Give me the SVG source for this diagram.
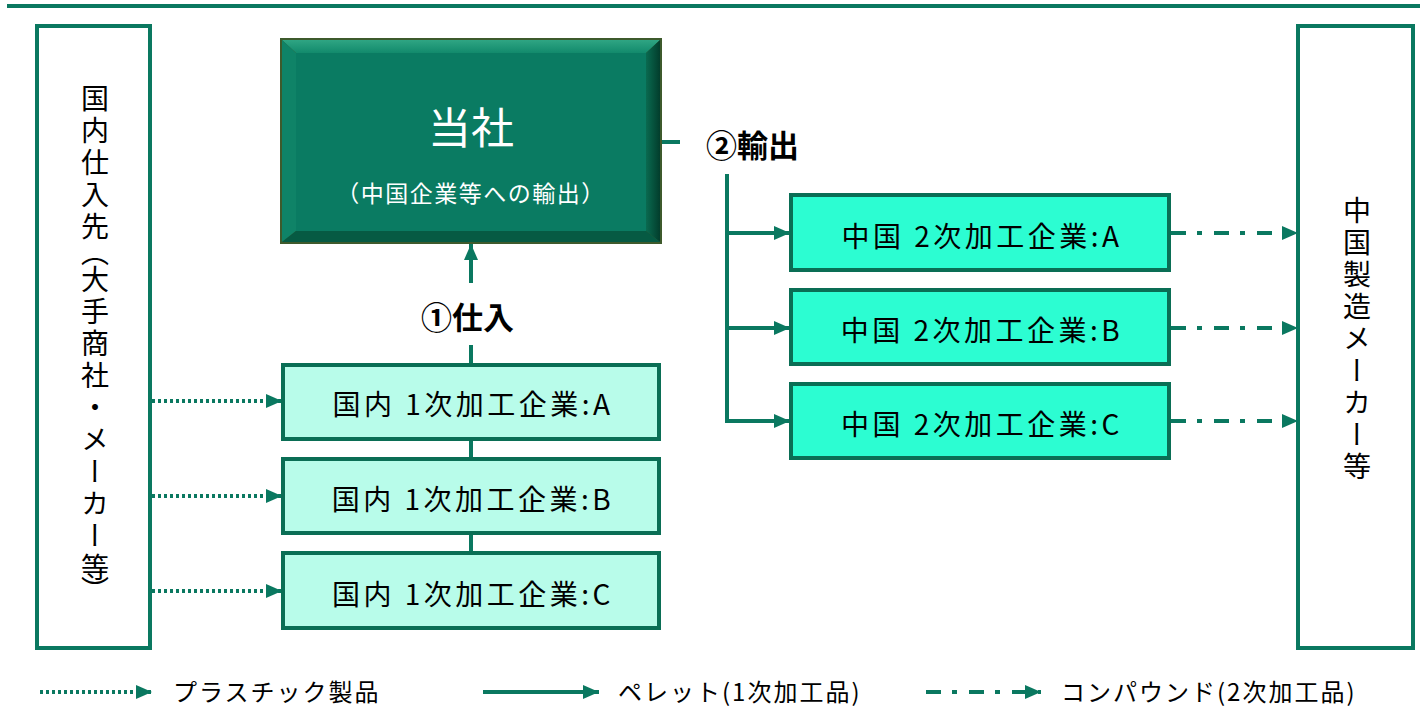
<svg xmlns="http://www.w3.org/2000/svg" width="1420" height="706" viewBox="0 0 1420 706">
<defs>
<style>
text{font-family:"Noto Sans CJK JP","Noto Sans",sans-serif;fill:#000}
.frame{fill:#fff;stroke:#0A7860;stroke-width:4}
.dom{fill:#B8FCEA;stroke:#0A6E55;stroke-width:4}
.chn{fill:#2CFDD2;stroke:#0A6E55;stroke-width:4}
.lbl{font-size:28px;letter-spacing:3.5px;text-anchor:middle}
.vert{font-size:28px;letter-spacing:4px;writing-mode:vertical-rl}
.solid{stroke:#0A7860;stroke-width:4;fill:none}
.dot{stroke:#0A7860;stroke-width:4;fill:none;stroke-dasharray:3 3}
.dashdot{stroke:#0A7860;stroke-width:4;fill:none;stroke-dasharray:15 11 5 12}
.leg{font-size:24px;letter-spacing:2px}
.step{font-size:31px;font-weight:bold}
</style>
<marker id="ah" viewBox="0 0 16 14" markerWidth="16" markerHeight="14" refX="16" refY="7" orient="auto" markerUnits="userSpaceOnUse">
<path d="M0,0 L16,7 L0,14 z" fill="#0A7860"/>
</marker>
<linearGradient id="topBevel" x1="0" y1="0" x2="0" y2="1">
<stop offset="0" stop-color="#2FA583"/><stop offset="1" stop-color="#128A6C"/>
</linearGradient>
<linearGradient id="rightBevel" x1="0" y1="0" x2="1" y2="0">
<stop offset="0" stop-color="#0A6A50"/><stop offset="1" stop-color="#023D2C"/>
</linearGradient>
</defs>

<rect x="7" y="4" width="1413" height="4" fill="#0A7860"/>

<g id="connectors">
<line class="dot" x1="152" y1="401" x2="282" y2="401" marker-end="url(#ah)"/>
<line class="dot" x1="152" y1="496" x2="282" y2="496" marker-end="url(#ah)"/>
<line class="dot" x1="152" y1="591" x2="282" y2="591" marker-end="url(#ah)"/>
<line class="solid" x1="471" y1="283" x2="471" y2="244" marker-end="url(#ah)"/>
<line class="solid" x1="471" y1="345" x2="471" y2="364"/>
<line class="solid" x1="471" y1="440" x2="471" y2="458"/>
<line class="solid" x1="471" y1="534" x2="471" y2="552"/>
<line class="solid" x1="662" y1="142" x2="680" y2="142"/>
<line class="solid" x1="727" y1="174" x2="727" y2="421"/>
<line class="solid" x1="725" y1="233" x2="790" y2="233" marker-end="url(#ah)"/>
<line class="solid" x1="725" y1="328" x2="790" y2="328" marker-end="url(#ah)"/>
<line class="solid" x1="725" y1="421" x2="790" y2="421" marker-end="url(#ah)"/>
<line class="dashdot" x1="1171" y1="233" x2="1298" y2="233" marker-end="url(#ah)"/>
<line class="dashdot" x1="1171" y1="328" x2="1298" y2="328" marker-end="url(#ah)"/>
<line class="dashdot" x1="1171" y1="421" x2="1298" y2="421" marker-end="url(#ah)"/>
</g>

<g id="domestic-suppliers">
<rect class="frame" x="37" y="26" width="113" height="622"/>
<text class="vert" x="95" y="84">国内仕入先</text>
<text class="vert" x="95" y="238">（</text>
<text class="vert" x="95" y="265">大手商社・メーカー等</text>
<text class="vert" x="95" y="576">）</text>
</g>

<g id="china-makers">
<rect class="frame" x="1298" y="26" width="115" height="622"/>
<text class="vert" x="1357" y="196">中国製造メーカー等</text>
</g>

<g id="company">
<rect x="280" y="38" width="382" height="206" fill="#3E5A2C"/>
<polygon points="282,40 660,40 646,53 296,53" fill="url(#topBevel)"/>
<polygon points="282,40 296,53 296,231 282,242" fill="#0F8367"/>
<polygon points="660,40 660,242 646,231 646,53" fill="url(#rightBevel)"/>
<polygon points="282,242 296,231 646,231 660,242" fill="#065A43"/>
<rect x="296" y="53" width="350" height="178" fill="#0A7B62"/>
<text x="471" y="144" font-size="43" text-anchor="middle" style="fill:#fff">当社</text>
<text x="471" y="202" font-size="23" letter-spacing="1.5" text-anchor="middle" style="fill:#fff">（中国企業等への輸出）</text>
</g>

<g id="label-purchase">
<text class="step" x="421" y="329">①仕入</text>
</g>
<g id="label-export">
<text class="step" x="706" y="157">②輸出</text>
</g>

<g id="dom-A"><rect class="dom" x="283" y="365" width="376" height="74"/><text class="lbl" x="473" y="415">国内 1次加工企業:A</text></g>
<g id="dom-B"><rect class="dom" x="283" y="459" width="376" height="74"/><text class="lbl" x="473" y="510">国内 1次加工企業:B</text></g>
<g id="dom-C"><rect class="dom" x="283" y="553" width="376" height="75"/><text class="lbl" x="473" y="605">国内 1次加工企業:C</text></g>

<g id="chn-A"><rect class="chn" x="791" y="195" width="378" height="75"/><text class="lbl" x="982" y="247">中国 2次加工企業:A</text></g>
<g id="chn-B"><rect class="chn" x="791" y="290" width="378" height="74"/><text class="lbl" x="982" y="341">中国 2次加工企業:B</text></g>
<g id="chn-C"><rect class="chn" x="791" y="384" width="378" height="74"/><text class="lbl" x="982" y="435">中国 2次加工企業:C</text></g>

<g id="legend">
<line class="dot" x1="40" y1="692" x2="152" y2="692" marker-end="url(#ah)"/>
<text class="leg" x="173" y="701">プラスチック製品</text>
<line class="solid" x1="483" y1="692" x2="599" y2="692" marker-end="url(#ah)"/>
<text class="leg" x="618" y="701">ペレット(1次加工品)</text>
<line class="dashdot" x1="926" y1="692" x2="1041" y2="692" marker-end="url(#ah)"/>
<text class="leg" x="1061" y="701">コンパウンド(2次加工品)</text>
</g>
</svg>
